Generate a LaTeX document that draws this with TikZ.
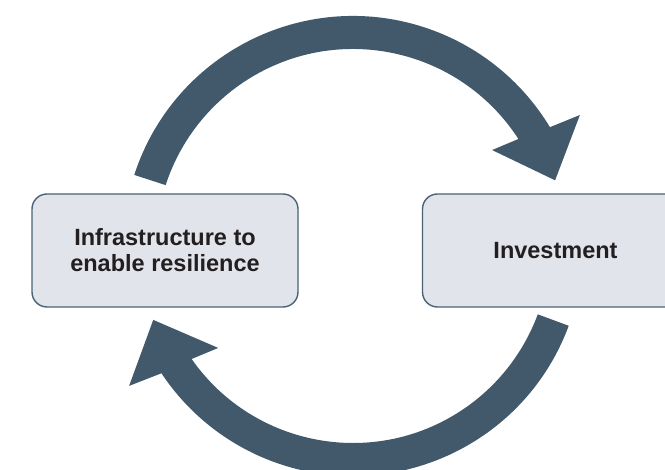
\documentclass[tikz,border=0pt]{standalone}
\usepackage{fontspec}
\setmainfont{Liberation Sans}
\definecolor{arrowfill}{HTML}{41596B}
\definecolor{boxfill}{HTML}{E1E4EA}
\definecolor{boxline}{HTML}{4A6274}
\definecolor{labeltext}{HTML}{231F20}
\begin{document}
\begin{tikzpicture}[x=1pt,y=1pt,
  stagebox/.style={draw=boxline, fill=boxfill, line width=1.4pt,
    rounded corners=15pt, minimum width=266pt, minimum height=113pt,
    inner sep=0pt, align=center, text=labeltext,
    font=\fontsize{23.5}{26}\selectfont\bfseries},
  cyclearrow/.style={fill=arrowfill, draw=none}]
\useasboundingbox (0,0) rectangle (665,470);
\clip (0,0) rectangle (665,470);

% the two stages of the cycle
\node[stagebox] (infra) at (165,219.5) {Infrastructure to\\enable resilience};
\node[stagebox] (invest) at (555.5,219.5) {Investment};

% centre of the circular cycle
\coordinate (hub) at (353,224);

% upper arrow: infrastructure -> investment
\fill[cyclearrow, shift={(hub)}]
  (162:230) arc[start angle=162, end angle=31.1, radius=230]
  -- (30:262) -- (18:212.5) -- (34.6:169) -- (32.9:197)
  arc[start angle=32.9, end angle=162, radius=197] -- cycle;

% lower arrow: investment -> infrastructure
\fill[cyclearrow, shift={(hub)}]
  (-20.3:230) arc[start angle=-20.3, end angle=-146.4, radius=230]
  -- (-148:264) -- (-159.7:213) -- (-142.9:169) -- (-145:197)
  arc[start angle=-145, end angle=-20.3, radius=197] -- cycle;
\end{tikzpicture}
\end{document}
